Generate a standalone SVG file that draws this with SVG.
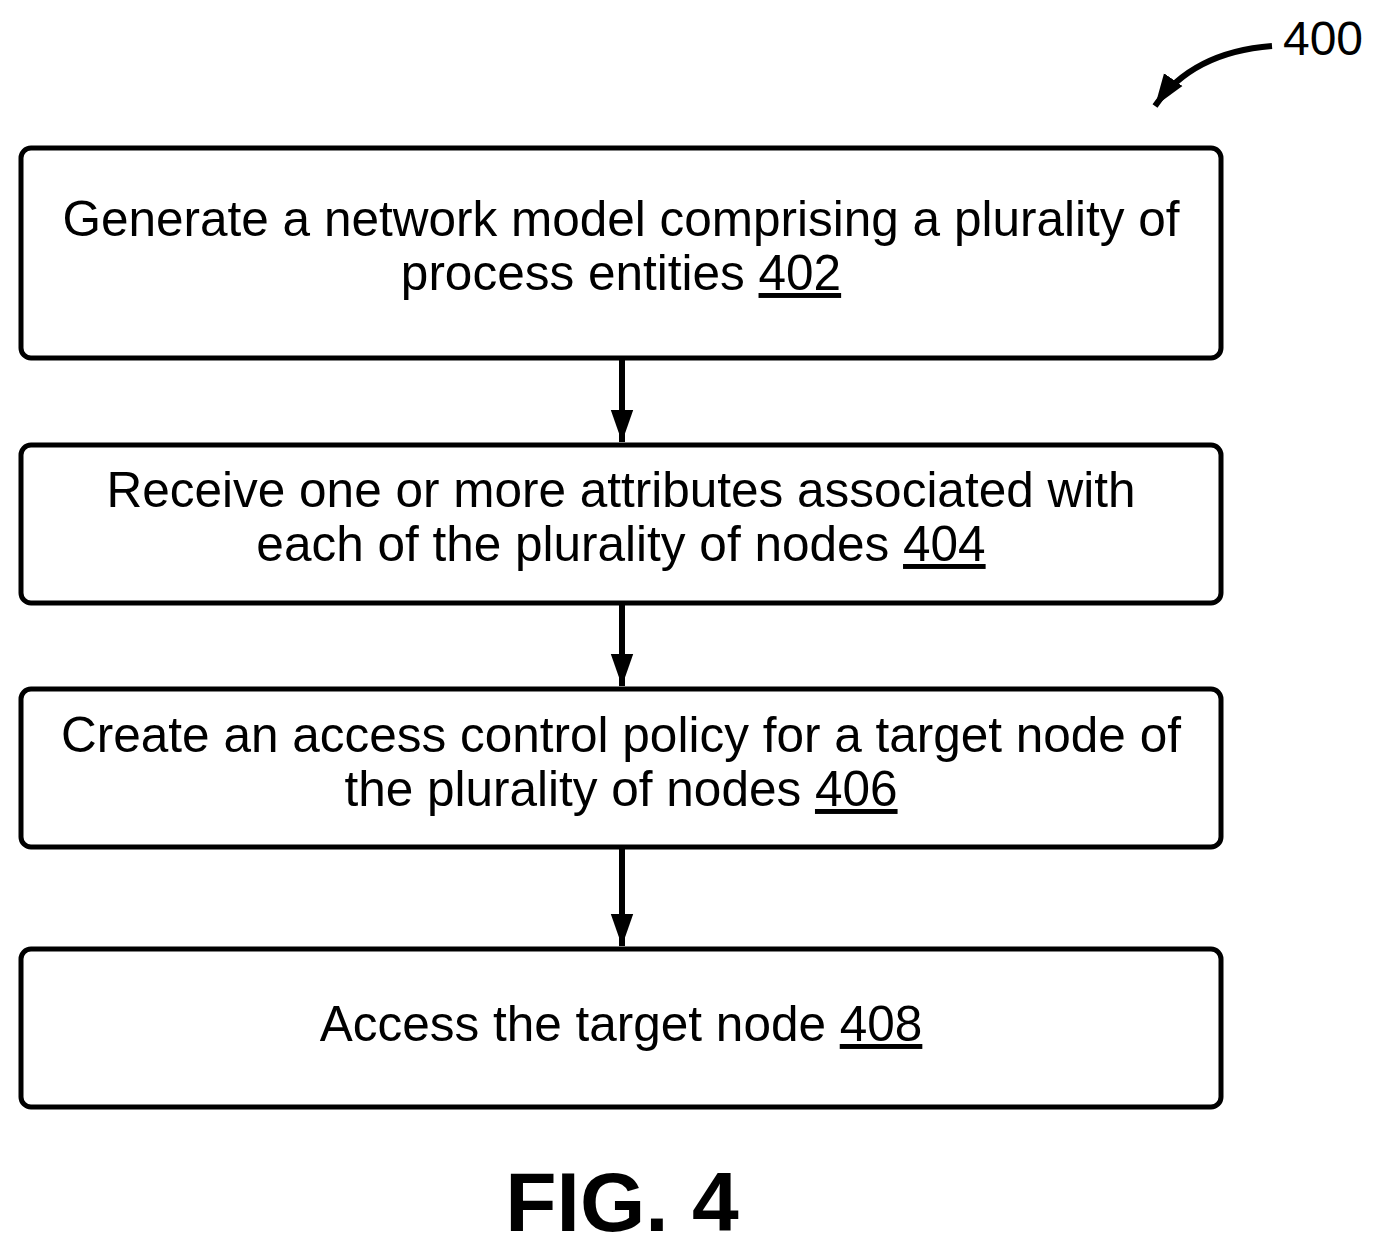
<svg xmlns="http://www.w3.org/2000/svg" width="1384" height="1247" viewBox="0 0 1384 1247">
<style>
.box{fill:#fff;stroke:#000;stroke-width:5}
.t{font-family:"Liberation Sans",Arial,sans-serif;font-size:49.5px;text-anchor:middle;fill:#000}
.c{stroke:#000;stroke-width:6;fill:none}
</style>
<defs>
<marker id="a" viewBox="0 0 10 10" refX="10" refY="5" markerWidth="32" markerHeight="32" markerUnits="userSpaceOnUse" orient="auto"><path d="M0,1.5 L10,5 L0,8.5z" fill="#000"/></marker></defs>
<rect width="1384" height="1247" fill="#fff"/>
<g id="n402"><rect class="box" x="21" y="148" width="1200" height="210" rx="10"/>
<text class="t" x="621" y="236">Generate a network model comprising a plurality of</text>
<text class="t" x="621" y="290">process entities <tspan text-decoration="underline">402</tspan></text></g>
<g id="n404"><rect class="box" x="21" y="445" width="1200" height="158" rx="10"/>
<text class="t" x="621" y="507">Receive one or more attributes associated with</text>
<text class="t" x="621" y="561">each of the plurality of nodes <tspan text-decoration="underline">404</tspan></text></g>
<g id="n406"><rect class="box" x="21" y="689" width="1200" height="158" rx="10"/>
<text class="t" x="621" y="752">Create an access control policy for a target node of</text>
<text class="t" x="621" y="806">the plurality of nodes <tspan text-decoration="underline">406</tspan></text></g>
<g id="n408"><rect class="box" x="21" y="949" width="1200" height="158" rx="10"/>
<text class="t" x="621" y="1041">Access the target node <tspan text-decoration="underline">408</tspan></text></g>
<g id="connectors">
<line class="c" x1="622" y1="360" x2="622" y2="442" marker-end="url(#a)"/>
<line class="c" x1="622" y1="605" x2="622" y2="686" marker-end="url(#a)"/>
<line class="c" x1="622" y1="849" x2="622" y2="946" marker-end="url(#a)"/>
<path class="c" d="M1272,46 C1220,50 1180,70 1155,106" marker-end="url(#a)"/>
</g>
<text x="1323" y="55" font-family="Liberation Sans,Arial,sans-serif" font-size="48" text-anchor="middle">400</text>
<text x="622" y="1231" font-family="Liberation Sans,Arial,sans-serif" font-size="84" font-weight="bold" text-anchor="middle">FIG. 4</text>
</svg>
